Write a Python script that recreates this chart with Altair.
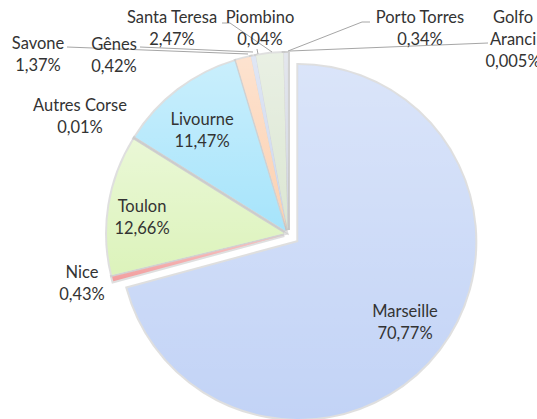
import altair as alt
import pandas as pd

# ---- data ----
names = ["Marseille", "Nice", "Toulon", "Autres Corse", "Livourne", "Savone",
         "Gênes", "Santa Teresa", "Piombino", "Porto Torres", "Golfo Aranci"]
values = [70.77, 0.43, 12.66, 0.01, 11.47, 1.37, 0.42, 2.47, 0.04, 0.34, 0.005]

# ---- styling / layout ----
colors = ["#c2d3f6", "#f29e9e", "#dcf3bb", "#d6c6ea", "#a6e4fb", "#fcd0b0",
          "#cbd6ee", "#dbe6d2", "#dcdcdc", "#d1d6e2", "#cccccc"]
wrapped = {"Golfo Aranci": "Golfo\nAranci"}
CX, CY, R = 288, 234, 177
EXPLODE_MAIN, EXPLODE_OTHER = 13, 4

# position of the first text line of each label
label_x = [405, 82, 142, 80, 202, 38, 114, 172, 260, 420, 513]
label_y = [312, 273, 207, 106, 120, 44, 45, 18, 18, 18, 18]

leader_pts = {
    "Savone": [(67, 47), (248, 54)],
    "Gênes": [(140, 47), (253, 52)],
    "Santa Teresa": [(222, 23), (230, 23), (272, 52)],
    "Piombino": [(257, 49), (258, 54)],
    "Porto Torres": [(370, 22), (362, 22), (288, 51)],
    "Golfo Aranci": [(488, 43), (290, 51)],
}

def fmt(v):
    return f"{v:g}".replace(".", ",") + "%"

df = pd.DataFrame({"name": names, "value": values, "idx": list(range(len(names)))})

lab = pd.DataFrame({
    "name": names,
    "label": [wrapped.get(n, n) + "\n" + fmt(v) for n, v in zip(names, values)],
    "lx": label_x,
    "ly": label_y,
})

lines_rows = []
for n, pts in leader_pts.items():
    for k, (x, y) in enumerate(pts):
        lines_rows.append({"id": n, "k": k, "x": x, "y": y})
lines = pd.DataFrame(lines_rows)

base = (
    alt.Chart(df)
    .transform_joinaggregate(total="sum(value)")
    .transform_window(cum="sum(value)", sort=[alt.SortField("idx")], frame=[None, 0])
    .transform_calculate(
        t1="datum.cum / datum.total * 2 * PI",
        t0="(datum.cum - datum.value) / datum.total * 2 * PI",
    )
    .transform_calculate(
        mid="(datum.t0 + datum.t1) / 2",
        ex=f"datum.name == 'Marseille' ? {EXPLODE_MAIN} : {EXPLODE_OTHER}",
    )
    .transform_calculate(
        px=f"{CX} + datum.ex * sin(datum.mid)",
        py=f"{CY} - datum.ex * cos(datum.mid)",
    )
)

enc = dict(
    theta=alt.Theta("t0:Q", scale=None),
    theta2="t1:Q",
    x=alt.X("px:Q", scale=None, axis=None),
    y=alt.Y("py:Q", scale=None, axis=None),
)

shadow = base.mark_arc(radius=R, stroke="#c4c4c4", strokeWidth=4, strokeOpacity=0.55,
                       fill="#ffffff").encode(**enc)
fill = base.mark_arc(radius=R).encode(
    color=alt.Color("name:N", scale=alt.Scale(domain=names, range=colors), legend=None),
    **enc,
)
grad = base.mark_arc(
    radius=R,
    fill=alt.Gradient(
        gradient="linear",
        stops=[
            alt.GradientStop(color="rgba(255,255,255,0.4)", offset=0),
            alt.GradientStop(color="rgba(255,255,255,0)", offset=1),
        ],
        x1=0, x2=0, y1=0, y2=1,
    ),
).encode(**enc)

leaders = alt.Chart(lines).mark_line(color="#a6a6a6", strokeWidth=1).encode(
    x=alt.X("x:Q", scale=None, axis=None),
    y=alt.Y("y:Q", scale=None, axis=None),
    detail="id:N",
    order="k:O",
)

texts = alt.Chart(lab).mark_text(
    font="Lato", fontSize=16.5, lineBreak="\n", lineHeight=22,
    color="#333333", align="center", baseline="middle",
).encode(
    x=alt.X("lx:Q", scale=None, axis=None),
    y=alt.Y("ly:Q", scale=None, axis=None),
    text="label:N",
)

chart = (
    alt.layer(shadow, fill, grad, leaders, texts)
    .properties(width=537, height=419, padding=0, autosize="none", background="white")
    .configure_view(stroke=None)
)

chart.save("out.html", embed_options={"renderer": "svg", "actions": False})
